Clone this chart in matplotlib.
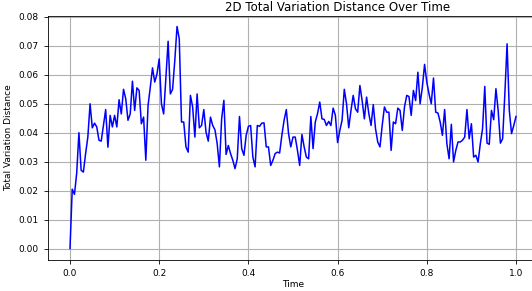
import numpy as np
import matplotlib
matplotlib.use("Agg")
import matplotlib.pyplot as plt

# total variation distance, one value every 0.005 time units
tvd = [
    0.000, 0.0205, 0.0187, 0.026, 0.040, 0.027, 0.0264, 0.0328, 0.0385, 0.050,
    0.0417, 0.0433, 0.042, 0.0374, 0.0371, 0.0425, 0.048, 0.035, 0.046, 0.042,
    0.046, 0.042, 0.0514, 0.0465, 0.055, 0.0517, 0.0443, 0.0465, 0.0578, 0.0477,
    0.0555, 0.0546, 0.0431, 0.0454, 0.0305, 0.0494, 0.0557, 0.0624, 0.0575, 0.0603,
    0.0655, 0.050, 0.0465, 0.059, 0.0716, 0.0534, 0.055, 0.065, 0.0767, 0.0724,
    0.0437, 0.0437, 0.0351, 0.0333, 0.0529, 0.0489, 0.0385, 0.0534, 0.0417, 0.0425,
    0.048, 0.0402, 0.0371, 0.0454, 0.0425, 0.041, 0.0362, 0.0282, 0.0448, 0.0512,
    0.0325, 0.0356, 0.0328, 0.0305, 0.0276, 0.031, 0.0456, 0.0345, 0.0322, 0.0391,
    0.0422, 0.0425, 0.0316, 0.0282, 0.0425, 0.0422, 0.0433, 0.0434, 0.0351, 0.0351,
    0.0287, 0.0305, 0.0328, 0.0333, 0.033, 0.0391, 0.0443, 0.048, 0.0397, 0.0351,
    0.0385, 0.0385, 0.0339, 0.0287, 0.0394, 0.0351, 0.0316, 0.031, 0.0456, 0.0345,
    0.0437, 0.0466, 0.0506, 0.0448, 0.0446, 0.0425, 0.0439, 0.0425, 0.0485, 0.046,
    0.0366, 0.0408, 0.0443, 0.055, 0.050, 0.0417, 0.0477, 0.0529, 0.0483, 0.0471,
    0.0563, 0.0511, 0.0448, 0.0523, 0.0466, 0.0425, 0.0497, 0.0414, 0.0368, 0.0351,
    0.0425, 0.0489, 0.0471, 0.0471, 0.0339, 0.0437, 0.0431, 0.0485, 0.0477, 0.0408,
    0.0489, 0.0529, 0.0525, 0.046, 0.0546, 0.0511, 0.0609, 0.050, 0.0557, 0.0636,
    0.0575, 0.0534, 0.050, 0.0589, 0.0471, 0.0468, 0.0437, 0.0391, 0.048, 0.0362,
    0.031, 0.0429, 0.0299, 0.0339, 0.0368, 0.0368, 0.0374, 0.0385, 0.048, 0.0379,
    0.0431, 0.0316, 0.0322, 0.0299, 0.0362, 0.0414, 0.056, 0.0364, 0.036, 0.0477,
    0.0445, 0.0552, 0.0477, 0.0364, 0.0379, 0.0534, 0.0707, 0.0477, 0.0397, 0.0425,
    0.0456,
]
time = np.linspace(0, 1, len(tvd))

fig = plt.figure(figsize=(5.32, 2.91), dpi=100)
# axes run a little past the right edge, as in the reference crop
ax = fig.add_axes([47.7 / 532, 31.5 / 291, 490.6 / 532, 244.0 / 291])
ax.plot(time, tvd, color="blue", linewidth=1.1)
ax.set_xlim(-0.05, 1.05)
ax.set_ylim(-0.0038, 0.0805)
ax.set_yticks(np.arange(0, 0.081, 0.01))
ax.grid(True, linewidth=0.8)
ax.tick_params(labelsize=6.5, length=3, width=0.6)
for s in ax.spines.values():
    s.set_linewidth(0.6)
# title sits right of the axes centre in the reference
ax.set_title("2D Total Variation Distance Over Time", fontsize=8.5, pad=3, x=0.59)
ax.set_xlabel("Time", fontsize=6.5, labelpad=2)
ax.set_ylabel("Total Variation Distance", fontsize=6.5, labelpad=4)

fig.savefig("out.png", dpi=100)
